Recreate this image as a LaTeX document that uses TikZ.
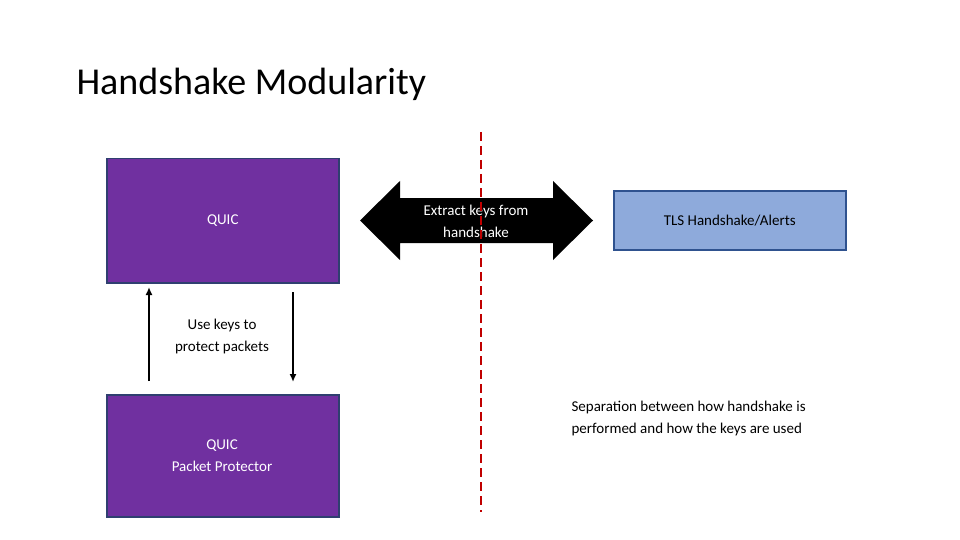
\documentclass[tikz,border=0pt]{standalone}
\usepackage{fontspec}
\setmainfont{Carlito}
\begin{document}
\begin{tikzpicture}[x=1pt,y=-1pt,
  box/.style={draw=#1,line width=1.5pt,minimum width=232pt,anchor=north west,inner sep=0pt},
  txt/.style={font=\fontsize{15}{22}\selectfont,align=center},
  arr/.style={line width=1.8pt,-{Latex[length=8pt,width=7pt]}}]
\useasboundingbox (0,0) rectangle (960,540);
\usetikzlibrary{arrows.meta}
\definecolor{quic}{HTML}{7030A0}
\definecolor{qborder}{HTML}{2F3F70}
\definecolor{tls}{HTML}{8EAADB}
\definecolor{tlsb}{HTML}{2F528F}
\definecolor{dred}{HTML}{C00000}
\node[anchor=base west,font=\fontsize{38}{40}\selectfont] (title) at (73,95) {Handshake Modularity};
\node[box=qborder,fill=quic,minimum height=124pt] (quic) at (106,158) {};
\node[txt,text=white] at (quic.center) {QUIC};
\node[box=qborder,fill=quic,minimum height=122pt] (prot) at (106,394) {};
\node[txt,text=white] at (222,456) {QUIC\\Packet Protector};
\coordinate (u1) at (149,381); \coordinate (u2) at (149,287);
\coordinate (d1) at (293,292); \coordinate (d2) at (293,382);
\draw[arr] (u1) -- (u2);
\draw[arr] (d1) -- (d2);
\node[txt] (use) at (222,336) {Use keys to\\protect packets};
\fill (360,220.5) -- (400,181) -- (400,198) -- (553,198) -- (553,181) -- (593,220.5) -- (553,260) -- (553,243) -- (400,243) -- (400,260) -- cycle;
\node[txt,text=white] (ext) at (476,221) {Extract keys from\\handshake};
\coordinate (r1) at (481,132); \coordinate (r2) at (481,512);
\draw[dred,line width=2.8pt,dash pattern=on 9pt off 5pt] (r1) -- (r2);
\node[box=tlsb,fill=tls,minimum height=59pt] (tlsn) at (613,190) {};
\node[txt] at (tlsn.center) {TLS Handshake/Alerts};
\node[txt,align=left,anchor=north west] (sep) at (568,398) {Separation between how handshake is\\performed and how the keys are used};
\end{tikzpicture}
\end{document}
